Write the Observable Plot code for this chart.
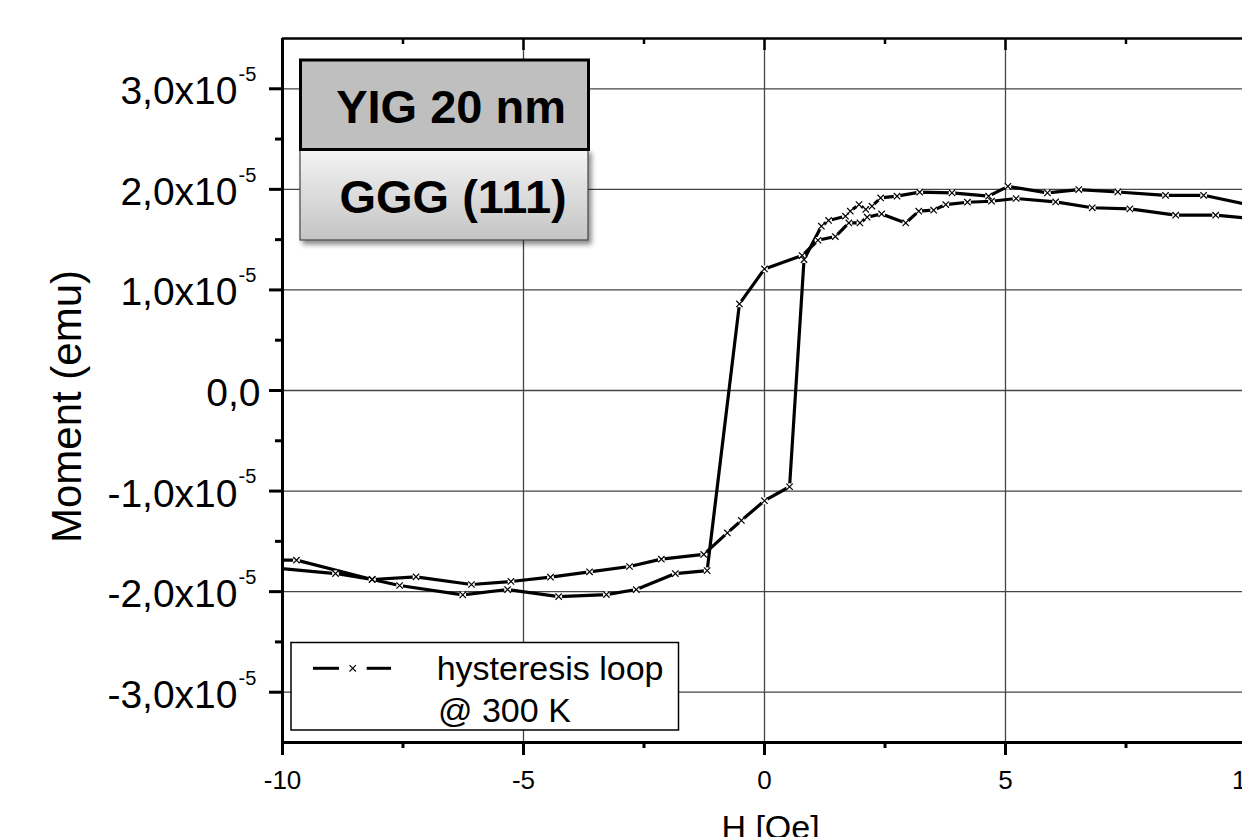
<!DOCTYPE html>
<html><head><meta charset="utf-8">
<script src="https://cdn.jsdelivr.net/npm/d3@7"></script>
<script src="https://cdn.jsdelivr.net/npm/@observablehq/plot@0.6"></script>
<style>
html,body{margin:0;padding:0;background:#fff;overflow:hidden;}
#wrap{position:relative;width:1242px;height:837px;overflow:hidden;background:#fff;}
#wrap svg{display:block;}
</style></head><body><div id="wrap"></div>
<script>
const FONT = '"Liberation Sans", Arial, Helvetica, sans-serif';

// Branch that switches near H = -1 Oe (field in Oe, moment in emu)
const fieldA = [-10.3, -9.71, -8.14, -7.57, -6.26, -5.33, -4.27, -3.28, -2.66, -1.85, -1.19, -0.52, 0, 0.78, 1.11, 1.47, 1.75, 1.98, 2.13, 2.43, 2.93, 3.20, 3.51, 3.76, 4.21, 4.71, 5.22, 6.04, 6.80, 7.58, 8.53, 9.36, 10];
const momentA = [-1.687e-5, -1.687e-5, -1.879e-5, -1.939e-5, -2.032e-5, -1.979e-5, -2.049e-5, -2.029e-5, -1.979e-5, -1.820e-5, -1.791e-5, 0.861e-5, 1.209e-5, 1.342e-5, 1.494e-5, 1.531e-5, 1.666e-5, 1.666e-5, 1.723e-5, 1.756e-5, 1.666e-5, 1.783e-5, 1.793e-5, 1.849e-5, 1.872e-5, 1.882e-5, 1.909e-5, 1.875e-5, 1.817e-5, 1.806e-5, 1.743e-5, 1.743e-5, 1.715e-5];

// Branch that switches near H = +0.7 Oe
const fieldB = [-10.3, -8.90, -8.14, -7.23, -6.08, -5.26, -4.44, -3.63, -2.80, -2.14, -1.26, -0.77, -0.48, 0, 0.52, 0.82, 1.18, 1.33, 1.68, 1.78, 1.96, 2.10, 2.23, 2.41, 2.75, 3.22, 3.89, 4.65, 5.05, 5.87, 6.52, 7.33, 8.32, 9.11, 10];
const momentB = [-1.759e-5, -1.820e-5, -1.879e-5, -1.853e-5, -1.929e-5, -1.899e-5, -1.856e-5, -1.803e-5, -1.750e-5, -1.677e-5, -1.630e-5, -1.416e-5, -1.292e-5, -1.096e-5, -0.957e-5, 1.302e-5, 1.634e-5, 1.691e-5, 1.733e-5, 1.783e-5, 1.849e-5, 1.800e-5, 1.833e-5, 1.915e-5, 1.932e-5, 1.972e-5, 1.965e-5, 1.932e-5, 2.030e-5, 1.965e-5, 1.998e-5, 1.974e-5, 1.941e-5, 1.941e-5, 1.852e-5];

const xTickValues = [-10, -5, 0, 5, 10];
const xTickLabels = ["-10", "-5", "0", "5", "10"];
const xMinorValues = [-7.5, -2.5, 2.5, 7.5];
const yTickValues = [-3e-5, -2e-5, -1e-5, 0, 1e-5, 2e-5, 3e-5];
const yTickMantissa = ["-3,0x10", "-2,0x10", "-1,0x10", "0,0", "1,0x10", "2,0x10", "3,0x10"];
const yTickExponent = ["-5", "-5", "-5", "", "-5", "-5", "-5"];
const yMinorValues = [-2.5e-5, -1.5e-5, -0.5e-5, 0.5e-5, 1.5e-5, 2.5e-5];
const xTitle = "H [Oe]";
const yTitle = "Moment (emu)";
const layerTop = "YIG 20 nm";
const layerBottom = "GGG (111)";
const legendLines = ["hysteresis loop", "@ 300 K"];

const rowsA = fieldA.map((h, i) => ({H: h, M: momentA[i]}));
const rowsB = fieldB.map((h, i) => ({H: h, M: momentB[i]}));
const allRows = rowsA.concat(rowsB);
const yRows = yTickValues.map((v, i) => ({v, m: yTickMantissa[i], e: yTickExponent[i]}));

const W = 1262, HT = 860, mL = 282, mT = 38, mR = 16, mB = 118;
const frameH = HT - mT - mB;

const chart = Plot.plot({
  width: W, height: HT,
  marginLeft: mL, marginRight: mR, marginTop: mT, marginBottom: mB,
  style: {fontFamily: FONT, background: "white", maxWidth: "none", overflow: "visible", color: "#000"},
  x: {domain: [-10, 10], label: null},
  y: {domain: [-3.5e-5, 3.5e-5], label: null},
  marks: [
    Plot.gridX(xTickValues, {stroke: "#444", strokeOpacity: 1, strokeWidth: 1.3}),
    Plot.gridY(yTickValues, {stroke: "#444", strokeOpacity: 1, strokeWidth: 1.3}),
    Plot.line(rowsA, {x: "H", y: "M", stroke: "#000", strokeWidth: 3.2, clip: true}),
    Plot.line(rowsB, {x: "H", y: "M", stroke: "#000", strokeWidth: 3.2, clip: true}),
    Plot.dot(allRows, {x: "H", y: "M", r: 3.4, fill: "white", stroke: null, clip: true}),
    Plot.dot(allRows, {x: "H", y: "M", symbol: "times", r: 3, stroke: "#000", strokeWidth: 1.2, clip: true}),
    // spines
    Plot.ruleX([-10], {stroke: "#000", strokeWidth: 3}),
    Plot.ruleY([-3.5e-5], {stroke: "#000", strokeWidth: 3}),
    Plot.ruleY([3.5e-5], {stroke: "#000", strokeWidth: 2.5}),
    // bottom axis
    Plot.axisX(xTickValues, {anchor: "bottom", tickSize: 13, strokeWidth: 3, tickPadding: 15, fontSize: 26,
      tickFormat: d => xTickLabels[xTickValues.indexOf(d)], label: null}),
    Plot.axisX(xMinorValues, {anchor: "bottom", tickSize: 6, strokeWidth: 3, tickFormat: () => "", label: null}),
    // top inward ticks
    Plot.tickX(xTickValues, {x: d => d, stroke: "#000", strokeWidth: 2.5, insetBottom: frameH - 12}),
    Plot.tickX(xMinorValues, {x: d => d, stroke: "#000", strokeWidth: 2.5, insetBottom: frameH - 6}),
    // left ticks
    Plot.axisY(yTickValues, {anchor: "left", tickSize: 13, strokeWidth: 3, tickFormat: () => "", label: null}),
    Plot.axisY(yMinorValues, {anchor: "left", tickSize: 7, strokeWidth: 3, tickFormat: () => "", label: null}),
    // y tick labels (mantissa + superscript exponent)
    Plot.text(yRows, {filter: d => d.e !== "", y: "v", text: "m", frameAnchor: "left", textAnchor: "end",
      dx: -45, dy: 3, fontSize: 39, fill: "#000"}),
    Plot.text(yRows, {filter: d => d.e === "", y: "v", text: "m", frameAnchor: "left", textAnchor: "end",
      dx: -22, dy: 3, fontSize: 39, fill: "#000"}),
    Plot.text(yRows, {filter: d => d.e !== "", y: "v", text: "e", frameAnchor: "left", textAnchor: "start",
      dx: -44, dy: -14, fontSize: 20, fill: "#000"}),
    // axis titles
    Plot.text([yTitle], {frameAnchor: "left", textAnchor: "middle", lineAnchor: "middle", rotate: -90,
      dx: -215, dy: 16, fontSize: 42, fill: "#000"}),
    Plot.text([xTitle], {frameAnchor: "bottom", textAnchor: "middle", lineAnchor: "middle",
      dx: 6, dy: 86, fontSize: 34, fill: "#000"})
  ]
});
const wrap = document.getElementById("wrap");
chart.style.position = "absolute";
chart.style.left = "0px";
chart.style.top = "0px";
wrap.appendChild(chart);

// Overlay: sample stack inset and legend
const ov = d3.select(wrap).append("svg")
  .attr("width", 1242).attr("height", 837)
  .style("position", "absolute").style("left", "0px").style("top", "0px")
  .style("font-family", FONT);
const defs = ov.append("defs");
const lg = defs.append("linearGradient").attr("id", "ggg").attr("x1", 0).attr("y1", 0).attr("x2", 0).attr("y2", 1);
lg.append("stop").attr("offset", "0%").attr("stop-color", "#f4f4f4");
lg.append("stop").attr("offset", "100%").attr("stop-color", "#c4c4c4");
const f = defs.append("filter").attr("id", "sh").attr("x", "-10%").attr("y", "-10%").attr("width", "130%").attr("height", "140%");
f.append("feDropShadow").attr("dx", 3).attr("dy", 4).attr("stdDeviation", 2.5).attr("flood-color", "#000").attr("flood-opacity", 0.45);

ov.append("rect").attr("x", 300).attr("y", 149).attr("width", 288).attr("height", 91)
  .attr("fill", "url(#ggg)").attr("stroke", "#444").attr("stroke-width", 1.2).attr("filter", "url(#sh)");
ov.append("rect").attr("x", 300.5).attr("y", 60).attr("width", 288).attr("height", 89.5)
  .attr("fill", "#bfbfbf").attr("stroke", "#000").attr("stroke-width", 3);
ov.append("text").attr("x", 566).attr("y", 122.7).attr("text-anchor", "end")
  .attr("font-size", 47).attr("font-weight", "bold").text(layerTop);
ov.append("text").attr("x", 566.7).attr("y", 213.3).attr("text-anchor", "end")
  .attr("font-size", 47).attr("font-weight", "bold").text(layerBottom);

// legend
ov.append("rect").attr("x", 291).attr("y", 642.5).attr("width", 387.5).attr("height", 87.5)
  .attr("fill", "#fff").attr("stroke", "#000").attr("stroke-width", 1.5);
ov.append("line").attr("x1", 313).attr("x2", 339).attr("y1", 668.3).attr("y2", 668.3).attr("stroke", "#000").attr("stroke-width", 3);
ov.append("line").attr("x1", 366.7).attr("x2", 391).attr("y1", 668.3).attr("y2", 668.3).attr("stroke", "#000").attr("stroke-width", 3);
ov.append("path").attr("d", d3.symbol(d3.symbolTimes, Math.PI * 9)()).attr("transform", "translate(352.7,668.3)")
  .attr("stroke", "#000").attr("stroke-width", 1.1).attr("fill", "none");
ov.append("text").attr("x", 436.7).attr("y", 680).attr("font-size", 34).text(legendLines[0]);
ov.append("text").attr("x", 438).attr("y", 721.7).attr("font-size", 34).text(legendLines[1]);
</script></body></html>
